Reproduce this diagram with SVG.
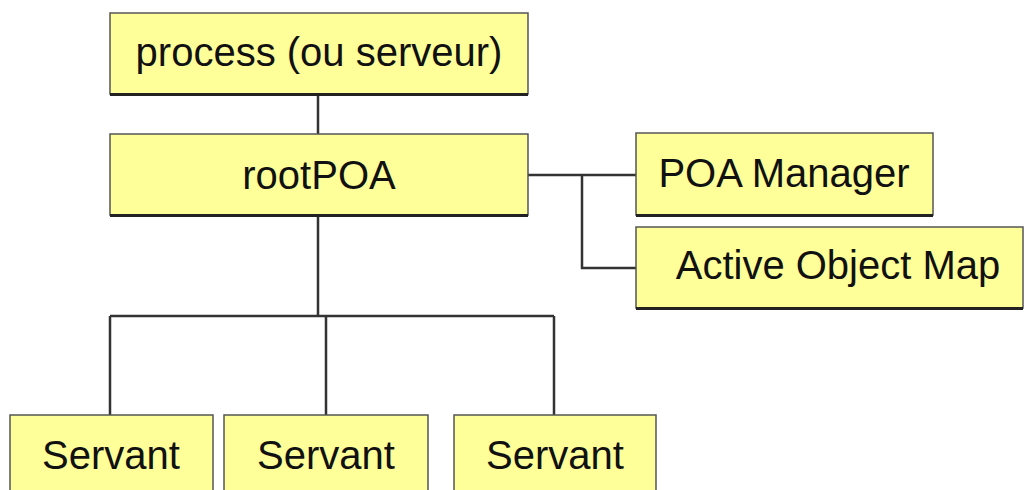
<svg xmlns="http://www.w3.org/2000/svg" width="1026" height="490" viewBox="0 0 1026 490">
  <style>
    .box { fill: #FFFF99; stroke: #555; stroke-width: 1.5; }
    .shade { stroke: #222; stroke-width: 3; fill: none; }
    .lbl { font-family: "Liberation Sans", Arial, sans-serif; font-size: 40px; fill: #111; text-anchor: middle; }
    .wire { fill: none; stroke: #333; stroke-width: 2.5; }
  </style>
  <rect width="1026" height="490" fill="#fff"/>

  <g id="connectors">
    <path class="wire" d="M318 94 V134"/>
    <path class="wire" d="M528 175 H636 M582 175 V268 H636"/>
    <path class="wire" d="M318 215 V316 M110 316 H554 M110 316 V415 M326 316 V415 M554 316 V415"/>
  </g>

  <g id="process">
    <rect class="box" x="110" y="13" width="418" height="81"/>
    <path class="shade" d="M110 94.5 H528"/>
    <text class="lbl" x="319" y="66">process (ou serveur)</text>
  </g>

  <g id="rootPOA">
    <rect class="box" x="110" y="134" width="418" height="81"/>
    <path class="shade" d="M110 215.5 H528"/>
    <text class="lbl" x="319" y="189">rootPOA</text>
  </g>

  <g id="poa-manager">
    <rect class="box" x="636" y="133" width="297" height="82"/>
    <path class="shade" d="M636 215.5 H933"/>
    <text class="lbl" x="784" y="187">POA Manager</text>
  </g>

  <g id="active-object-map">
    <rect class="box" x="636" y="227" width="387" height="81"/>
    <path class="shade" d="M636 308.5 H1023"/>
    <text class="lbl" x="838" y="279">Active Object Map</text>
  </g>

  <g id="servant-1">
    <rect class="box" x="10" y="415" width="203" height="90"/>
    <text class="lbl" x="111" y="469">Servant</text>
  </g>

  <g id="servant-2">
    <rect class="box" x="224" y="415" width="204" height="90"/>
    <text class="lbl" x="326" y="469">Servant</text>
  </g>

  <g id="servant-3">
    <rect class="box" x="454" y="415" width="202" height="90"/>
    <text class="lbl" x="555" y="469">Servant</text>
  </g>
</svg>
